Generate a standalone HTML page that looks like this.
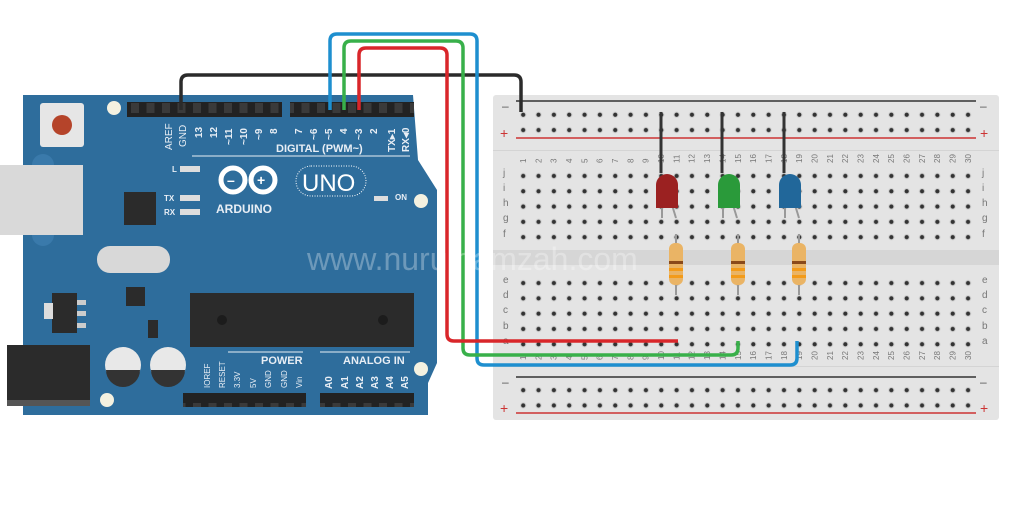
<!DOCTYPE html>
<html><head><meta charset="utf-8"><style>
html,body{margin:0;padding:0;background:#fff;}
svg{display:block}
text{font-family:"Liberation Sans",sans-serif;}
</style></head><body>
<svg width="1024" height="509" viewBox="0 0 1024 509" xmlns="http://www.w3.org/2000/svg">
<defs>
<pattern id="dots" x="515.5" y="0" width="15.34" height="15.3" patternUnits="userSpaceOnUse">
<circle cx="7.7" cy="7.65" r="3.2" fill="#d0d0d0"/><circle cx="7.7" cy="7.65" r="2.1" fill="#333"/>
</pattern>
<pattern id="pins" x="127" y="0" width="15.5" height="20" patternUnits="userSpaceOnUse">
<rect x="0" y="0" width="15.5" height="20" fill="#222"/><rect x="4" y="3" width="8" height="10" fill="#3a3a3a"/>
</pattern>
</defs>
<rect width="1024" height="509" fill="#fff"/>
<!-- breadboard -->
<rect x="493" y="95" width="506" height="325" fill="#e4e4e4" rx="3"/>
<rect x="493" y="150" width="506" height="1" fill="#d4d4d4"/>
<rect x="493" y="366" width="506" height="1" fill="#d4d4d4"/>
<rect x="493" y="250" width="506" height="15" fill="#d6d6d6"/>
<line x1="516" y1="101" x2="976" y2="101" stroke="#333" stroke-width="1.5"/>
<line x1="516" y1="138" x2="976" y2="138" stroke="#c33" stroke-width="1.5"/>
<line x1="516" y1="377" x2="976" y2="377" stroke="#333" stroke-width="1.5"/>
<line x1="516" y1="413" x2="976" y2="413" stroke="#c33" stroke-width="1.5"/>
<g font-size="12" fill="#555"><text x="502" y="110">–</text><text x="980" y="110">–</text><text x="502" y="386">–</text><text x="980" y="386">–</text></g>
<g font-size="14" fill="#c33"><text x="500" y="138">+</text><text x="980" y="138">+</text><text x="500" y="413">+</text><text x="980" y="413">+</text></g>
<rect x="515.5" y="104.5" width="460" height="15.3" fill="url(#dots)"/>
<rect x="515.5" y="119.5" width="460" height="15.3" fill="url(#dots)"/>
<rect x="515.5" y="379.5" width="460" height="15.3" fill="url(#dots)"/>
<rect x="515.5" y="395.5" width="460" height="15.3" fill="url(#dots)"/>
<rect x="515.5" y="165.5" width="460" height="76.5" fill="url(#dots)"/>
<rect x="515.5" y="272.5" width="460" height="76.5" fill="url(#dots)"/>
<g font-size="10" fill="#777">
<text x="503" y="176">j</text><text x="503" y="191">i</text><text x="503" y="206">h</text><text x="503" y="221">g</text><text x="503" y="237">f</text>
<text x="503" y="283">e</text><text x="503" y="298">d</text><text x="503" y="313">c</text><text x="503" y="329">b</text><text x="503" y="344">a</text>
<text x="982" y="176">j</text><text x="982" y="191">i</text><text x="982" y="206">h</text><text x="982" y="221">g</text><text x="982" y="237">f</text>
<text x="982" y="283">e</text><text x="982" y="298">d</text><text x="982" y="313">c</text><text x="982" y="329">b</text><text x="982" y="344">a</text>
</g>
<g font-size="8" fill="#777">
<text transform="translate(526,163) rotate(-90)">1</text><text transform="translate(541.3,163) rotate(-90)">2</text><text transform="translate(556.7,163) rotate(-90)">3</text><text transform="translate(572,163) rotate(-90)">4</text><text transform="translate(587.4,163) rotate(-90)">5</text><text transform="translate(602.7,163) rotate(-90)">6</text><text transform="translate(618,163) rotate(-90)">7</text><text transform="translate(633.4,163) rotate(-90)">8</text><text transform="translate(648.7,163) rotate(-90)">9</text><text transform="translate(664.1,163) rotate(-90)">10</text><text transform="translate(679.4,163) rotate(-90)">11</text><text transform="translate(694.7,163) rotate(-90)">12</text><text transform="translate(710.1,163) rotate(-90)">13</text><text transform="translate(725.4,163) rotate(-90)">14</text><text transform="translate(740.8,163) rotate(-90)">15</text><text transform="translate(756.1,163) rotate(-90)">16</text><text transform="translate(771.4,163) rotate(-90)">17</text><text transform="translate(786.8,163) rotate(-90)">18</text><text transform="translate(802.1,163) rotate(-90)">19</text><text transform="translate(817.5,163) rotate(-90)">20</text><text transform="translate(832.8,163) rotate(-90)">21</text><text transform="translate(848.1,163) rotate(-90)">22</text><text transform="translate(863.5,163) rotate(-90)">23</text><text transform="translate(878.8,163) rotate(-90)">24</text><text transform="translate(894.2,163) rotate(-90)">25</text><text transform="translate(909.5,163) rotate(-90)">26</text><text transform="translate(924.8,163) rotate(-90)">27</text><text transform="translate(940.2,163) rotate(-90)">28</text><text transform="translate(955.5,163) rotate(-90)">29</text><text transform="translate(970.9,163) rotate(-90)">30</text>
<text transform="translate(526,360) rotate(-90)">1</text><text transform="translate(541.3,360) rotate(-90)">2</text><text transform="translate(556.7,360) rotate(-90)">3</text><text transform="translate(572,360) rotate(-90)">4</text><text transform="translate(587.4,360) rotate(-90)">5</text><text transform="translate(602.7,360) rotate(-90)">6</text><text transform="translate(618,360) rotate(-90)">7</text><text transform="translate(633.4,360) rotate(-90)">8</text><text transform="translate(648.7,360) rotate(-90)">9</text><text transform="translate(664.1,360) rotate(-90)">10</text><text transform="translate(679.4,360) rotate(-90)">11</text><text transform="translate(694.7,360) rotate(-90)">12</text><text transform="translate(710.1,360) rotate(-90)">13</text><text transform="translate(725.4,360) rotate(-90)">14</text><text transform="translate(740.8,360) rotate(-90)">15</text><text transform="translate(756.1,360) rotate(-90)">16</text><text transform="translate(771.4,360) rotate(-90)">17</text><text transform="translate(786.8,360) rotate(-90)">18</text><text transform="translate(802.1,360) rotate(-90)">19</text><text transform="translate(817.5,360) rotate(-90)">20</text><text transform="translate(832.8,360) rotate(-90)">21</text><text transform="translate(848.1,360) rotate(-90)">22</text><text transform="translate(863.5,360) rotate(-90)">23</text><text transform="translate(878.8,360) rotate(-90)">24</text><text transform="translate(894.2,360) rotate(-90)">25</text><text transform="translate(909.5,360) rotate(-90)">26</text><text transform="translate(924.8,360) rotate(-90)">27</text><text transform="translate(940.2,360) rotate(-90)">28</text><text transform="translate(955.5,360) rotate(-90)">29</text><text transform="translate(970.9,360) rotate(-90)">30</text>
</g>
<!-- arduino -->
<path d="M23 95 H413 L418 160 L437 190 V363 L428 383 V415 H23 Z" fill="#2e6d9c"/>
<circle cx="43" cy="165" r="11" fill="#3a7aab"/><circle cx="43" cy="235" r="11" fill="#3a7aab"/>
<rect x="0" y="165" width="83" height="70" fill="#d9d9d9"/>
<rect x="40" y="103" width="44" height="44" rx="3" fill="#e6e6e6"/>
<circle cx="62" cy="125" r="10" fill="#b5442a"/>
<circle cx="114" cy="108" r="7" fill="#f4f1e0"/><circle cx="421" cy="201" r="7" fill="#f4f1e0"/>
<circle cx="421" cy="369" r="7" fill="#f4f1e0"/><circle cx="107" cy="400" r="7" fill="#f4f1e0"/>
<rect x="127" y="102" width="155" height="15" fill="url(#pins)"/>
<rect x="290" y="102" width="124" height="15" fill="url(#pins)"/>
<rect x="183" y="393" width="123" height="14" fill="url(#pins)"/>
<rect x="320" y="393" width="94" height="14" fill="url(#pins)"/>
<g font-size="10" font-weight="bold" fill="#e8eef5">
<text transform="translate(172,150) rotate(-90)" font-weight="normal">AREF</text>
<text transform="translate(186,147) rotate(-90)" font-weight="normal">GND</text>
<text transform="translate(202,138) rotate(-90)">13</text><text transform="translate(217,138) rotate(-90)">12</text>
<text transform="translate(232,145) rotate(-90)">~11</text><text transform="translate(247,145) rotate(-90)">~10</text>
<text transform="translate(262,140) rotate(-90)">~9</text><text transform="translate(277,134) rotate(-90)">8</text>
<text transform="translate(302,134) rotate(-90)">7</text><text transform="translate(317,140) rotate(-90)">~6</text>
<text transform="translate(332,140) rotate(-90)">~5</text><text transform="translate(347,134) rotate(-90)">4</text>
<text transform="translate(362,140) rotate(-90)">~3</text><text transform="translate(377,134) rotate(-90)">2</text>
<text transform="translate(395,152) rotate(-90)">TX▸1</text><text transform="translate(409,152) rotate(-90)">RX◂0</text>
<text x="276" y="152" font-size="11">DIGITAL (PWM~)</text>
<text x="172" y="172" font-size="8">L</text><text x="164" y="201" font-size="8">TX</text><text x="164" y="215" font-size="8">RX</text>
<text x="395" y="200" font-size="8">ON</text>
<text x="216" y="213" font-size="12">ARDUINO</text>
<text x="261" y="364" font-size="11">POWER</text><text x="343" y="364" font-size="11">ANALOG IN</text>
<text transform="translate(210,388) rotate(-90)" font-weight="normal" font-size="8">IOREF</text>
<text transform="translate(225,388) rotate(-90)" font-weight="normal" font-size="8">RESET</text>
<text transform="translate(240,388) rotate(-90)" font-weight="normal" font-size="8">3.3V</text>
<text transform="translate(256,388) rotate(-90)" font-weight="normal" font-size="8">5V</text>
<text transform="translate(271,388) rotate(-90)" font-weight="normal" font-size="8">GND</text>
<text transform="translate(287,388) rotate(-90)" font-weight="normal" font-size="8">GND</text>
<text transform="translate(302,388) rotate(-90)" font-weight="normal" font-size="8">Vin</text>
<text transform="translate(332,389) rotate(-90)">A0</text><text transform="translate(348,389) rotate(-90)">A1</text>
<text transform="translate(363,389) rotate(-90)">A2</text><text transform="translate(378,389) rotate(-90)">A3</text>
<text transform="translate(393,389) rotate(-90)">A4</text><text transform="translate(408,389) rotate(-90)">A5</text>
</g>
<line x1="192" y1="156" x2="410" y2="156" stroke="#e8eef5" stroke-width="1"/>
<line x1="228" y1="352" x2="303" y2="352" stroke="#e8eef5"/><line x1="320" y1="352" x2="410" y2="352" stroke="#e8eef5"/>
<rect x="180" y="166" width="20" height="6" fill="#ddd"/><rect x="180" y="195" width="20" height="6" fill="#ddd"/><rect x="180" y="209" width="20" height="6" fill="#ddd"/>
<rect x="374" y="196" width="14" height="5" fill="#ddd"/>
<g fill="none" stroke="#fff" stroke-width="5"><circle cx="233" cy="180" r="12"/><circle cx="263" cy="180" r="12"/></g>
<text x="227" y="185" font-size="14" font-weight="bold" fill="#fff">–</text><text x="257" y="185" font-size="14" font-weight="bold" fill="#fff">+</text>
<rect x="296" y="166" width="70" height="30" rx="15" fill="none" stroke="#fff" stroke-dasharray="1 1.5"/>
<text x="302" y="191" font-size="24" fill="#fff">UNO</text>
<rect x="124" y="192" width="32" height="33" fill="#2b2b2b"/>
<rect x="97" y="246" width="73" height="27" rx="13" fill="#d8d8d8"/>
<rect x="126" y="287" width="19" height="19" fill="#2b2b2b"/>
<rect x="52" y="293" width="25" height="40" fill="#2b2b2b"/><rect x="44" y="303" width="9" height="16" fill="#ddd"/>
<rect x="77" y="300" width="9" height="5" fill="#ccc"/><rect x="77" y="311" width="9" height="5" fill="#ccc"/><rect x="77" y="323" width="9" height="5" fill="#ccc"/>
<rect x="148" y="320" width="10" height="18" fill="#2b2b2b"/>
<rect x="7" y="345" width="83" height="55" fill="#2b2b2b"/><rect x="7" y="400" width="83" height="6" fill="#555"/>
<circle cx="123" cy="365" r="18" fill="#e8e8e8"/><path d="M106 370 A17 17 0 0 0 140 370Z" fill="#333"/>
<circle cx="168" cy="365" r="18" fill="#e8e8e8"/><path d="M151 370 A17 17 0 0 0 185 370Z" fill="#333"/>
<rect x="190" y="293" width="224" height="54" fill="#2b2b2b"/>
<circle cx="222" cy="320" r="5" fill="#1c1c1c"/><circle cx="383" cy="320" r="5" fill="#1c1c1c"/>
<!-- LEDs -->
<g stroke="#333" stroke-width="3"><line x1="661" y1="112" x2="661" y2="173"/><line x1="722" y1="112" x2="722" y2="173"/><line x1="784" y1="112" x2="784" y2="173"/></g>
<g stroke="#999" stroke-width="2"><line x1="662" y1="205" x2="662" y2="218"/><line x1="672" y1="205" x2="676" y2="218"/>
<line x1="723" y1="205" x2="723" y2="218"/><line x1="733" y1="205" x2="737" y2="218"/><line x1="785" y1="205" x2="785" y2="218"/><line x1="795" y1="205" x2="799" y2="218"/>
<line x1="676" y1="234" x2="676" y2="295"/><line x1="738" y1="234" x2="738" y2="295"/><line x1="799" y1="234" x2="799" y2="295"/></g>
<path d="M656 208 V185 a11 11 0 0 1 22 0 V208Z" fill="#9b2121"/>
<path d="M718 208 V185 a11 11 0 0 1 22 0 V208Z" fill="#2a9a3a"/>
<path d="M779 208 V185 a11 11 0 0 1 22 0 V208Z" fill="#21679a"/>
<g fill="#eab465"><rect x="669" y="243" width="14" height="42" rx="6"/><rect x="731" y="243" width="14" height="42" rx="6"/><rect x="792" y="243" width="14" height="42" rx="6"/></g>
<g fill="#8a4a1a"><rect x="669" y="261" width="14" height="3"/><rect x="731" y="261" width="14" height="3"/><rect x="792" y="261" width="14" height="3"/></g>
<g fill="#f39b1a"><rect x="669" y="268" width="14" height="3"/><rect x="731" y="268" width="14" height="3"/><rect x="792" y="268" width="14" height="3"/>
<rect x="669" y="275" width="14" height="3"/><rect x="731" y="275" width="14" height="3"/><rect x="792" y="275" width="14" height="3"/></g>
<!-- wires -->
<g fill="none" stroke-width="3.5" stroke-linejoin="round">
<path d="M181 110 V82 Q181 75 188 75 H514 Q521 75 521 82 V112" stroke="#2b2b2b"/>
<path d="M330 110 V41 Q330 34 337 34 H470 Q477 34 477 41 V358 Q477 365 484 365 H790 Q797 365 797 358 V341" stroke="#1e8fcf"/>
<path d="M344 110 V48 Q344 41 351 41 H456 Q463 41 463 48 V348 Q463 355 470 355 H731 Q738 355 738 348 V341" stroke="#38b04a"/>
<path d="M359 110 V55 Q359 48 366 48 H440 Q447 48 447 55 V334 Q447 341 454 341 H678" stroke="#d9262a"/>
</g>
<!-- watermark -->
<text x="307" y="270" font-size="32" fill="#fff" fill-opacity="0.3">www.nurulhamzah.com</text>
</svg>
</body></html>
